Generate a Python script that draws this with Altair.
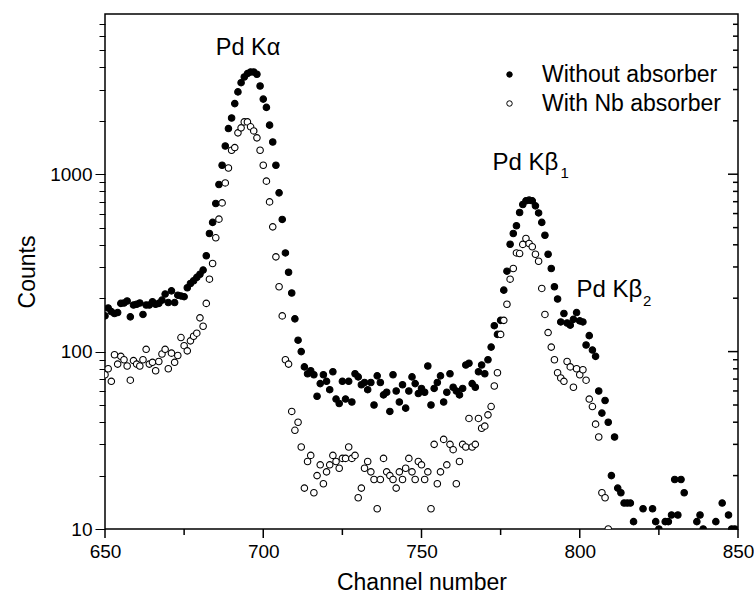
import altair as alt
import pandas as pd

channels = list(range(650, 851))
series_names = ["Without absorber", "With Nb absorber"]

N = None
without_counts = [
    159, 176, 168, 164, 166, 187, 188, 193, 157, 183,      # 650
    185, 188, 162, 183, 183, 191, 185, 187, 195, 211,      # 660
    189, 220, 189, 208, 206, 204, 229, 242, 251, 262,      # 670
    273, 288, 347, 463, 535, 684, 875, 1124, 1443, 1808,   # 680
    2075, 2500, 2910, 3280, 3530, 3690, 3770, 3770, 3660, 3140,  # 690
    2650, 2380, 1890, 1520, 1124, 785, 556, 360, 280, 214,  # 700
    153, 116, 100, 82, 75, 78, 74, 56, 66, 74,             # 710
    68, 61, 77, 54, 51, 68, 54, 68, 52, 75,                # 720
    72, 65, 67, 61, 67, 50, 73, 67, 57, 59,                # 730
    46, 74, 60, 52, 65, 48, 60, 72, 66, 58,                # 740
    62, 59, 83, 50, 62, 67, 73, 52, 59, 75,                # 750
    63, 60, 57, 62, 84, 86, 66, 63, 77, 84,                # 760
    75, 90, 106, 140, 125, 150, 222, 284, 403, 463,        # 770
    512, 608, 675, 708, 714, 708, 663, 605, 535, 453,      # 780
    354, 294, 232, 198, 147, 164, 145, 141, 152, 166,      # 790
    149, 147, 109, 123, 102, 94, 60, 45, 53, 40,           # 800
    20, 33, 17, 16, 14, 14, 14, 11, N, N,                  # 810
    13, N, N, 13, 11, 10, N, 11, 11, 12,                   # 820
    19, 12, 19, 16, N, N, N, 11, 12, 10,                   # 830
    N, N, N, 11, N, 14, N, 12, 10, 10,                     # 840
    N,                                                     # 850
]

with_counts = [
    74, 80, 68, 96, 85, 94, 90, 83, 69, 89,                # 650
    85, 83, 90, 103, 85, 87, 78, 88, 97, 103,              # 660
    80, 98, 87, 95, 120, 108, 101, 115, 122, 127,          # 670
    155, 139, 187, 256, 314, 438, 558, 689, 893, 1084,     # 680
    1365, 1413, 1710, 1825, 1972, 1972, 1850, 1754, 1603, 1365,  # 690
    1124, 914, 698, 505, 342, 232, 159, 90, 85, 46,        # 700
    36, 40, 29, 17, 24, 26, 16, 20, 23, 18,                # 710
    21, 23, 26, 24, 22, 25, 25, 29, 25, 26,                # 720
    15, 17, 22, 24, 21, 19, 13, 19, 25, 21,                # 730
    20, 19, 17, 21, 19, 22, 25, 21, 19, 24,                # 740
    23, 19, 21, 13, 30, 18, 21, 32, 23, 30,                # 750
    28, 18, 24, 30, 29, 42, 29, 30, 42, 37,                # 760
    38, 44, 49, 64, 76, 125, 150, 185, 256, 294,           # 770
    360, 357, 402, 434, 407, 390, 354, 323, 227, 162,      # 780
    128, 106, 90, 76, 71, 68, 88, 82, 63, 80,              # 790
    74, 79, 69, 54, 49, 39, 33, 16, 15, 10,                # 800
] + [N] * 41

x_major = [650, 700, 750, 800, 850]
x_minor = [675, 725, 775, 825]
x_ticks = sorted(x_major + x_minor)
y_major = [10, 100, 1000]
y_minor = [20, 30, 40, 50, 60, 70, 80, 90,
           200, 300, 400, 500, 600, 700, 800, 900,
           2000, 3000, 4000, 5000, 6000, 7000]
y_ticks = sorted(y_major + y_minor)

ann_text = ["Pd K\u03b1", "Pd K\u03b2", "1", "Pd K\u03b2", "2"]
ann_x = [685.0, 772.4, 793.9, 799.0, 820.0]
ann_y = [5130, 1153, 1010, 222, 193]
ann_size = [23.5, 24, 15, 24, 15]

W, H = 633, 515

rows = []
for name, counts in zip(series_names, [without_counts, with_counts]):
    for c, v in zip(channels, counts):
        if v is not None:
            rows.append({"channel": c, "counts": v, "series": name})
df = pd.DataFrame(rows)
ann = pd.DataFrame({"text": ann_text, "x": ann_x, "y": ann_y, "size": ann_size})
xmaj_df = pd.DataFrame({"v": x_major})
xmin_df = pd.DataFrame({"v": x_minor})
ymaj_df = pd.DataFrame({"v": y_major})
ymin_df = pd.DataFrame({"v": y_minor})

FONT = "Liberation Sans"
xs = alt.Scale(domain=[650, 850], nice=False, zero=False)
ys = alt.Scale(type="log", domain=[10, 8000], nice=False)

X_MAJOR = "datum.value % 50 == 0"
Y_MAJOR = "datum.value == 10 || datum.value == 100 || datum.value == 1000"

common = dict(grid=False, domain=False, tickColor="black", tickWidth=1,
              labelColor="black", labelFont=FONT, labelFontSize=19,
              titleFont=FONT, titleFontSize=23, titleColor="black",
              titleFontWeight="normal", labelFlush=False, labelOverlap=False)

x_axis = alt.Axis(values=x_ticks, orient="bottom", title="Channel number",
                  ticks=False, labelExpr=f"{X_MAJOR} ? datum.label : ''",
                  labelPadding=13, titlePadding=10, format="d", **common)
y_axis = alt.Axis(values=y_ticks, orient="left", title="Counts", ticks=True,
                  tickSize=alt.condition(Y_MAJOR, alt.value(10), alt.value(6)),
                  labelExpr=f"{Y_MAJOR} ? datum.label : ''",
                  labelPadding=3, titlePadding=10, format="d", **common)

base = alt.Chart(df)

points = base.mark_point(shape="circle", size=42, filled=True, strokeWidth=1.1,
                         opacity=1, clip=True).encode(
    x=alt.X("channel:Q", scale=xs, axis=x_axis),
    y=alt.Y("counts:Q", scale=ys, axis=y_axis),
    fill=alt.Fill("series:N", scale=alt.Scale(domain=series_names, range=["black", "white"]),
                  legend=alt.Legend(title=None, orient="none", legendX=393, legendY=49,
                                    labelFont=FONT, labelFontSize=23, labelColor="black",
                                    labelLimit=0,
                                    symbolType="circle", symbolSize=30,
                                    symbolStrokeColor="black", symbolStrokeWidth=1,
                                    labelOffset=21, rowPadding=5, padding=0)),
    stroke=alt.value("black"),
)

x_major_ticks = alt.Chart(xmaj_df).mark_rule(color="black", strokeWidth=1.5).encode(
    x=alt.X("v:Q", scale=xs, axis=x_axis),
    y=alt.value(H), y2=alt.value(H + 9),
)
x_minor_ticks = alt.Chart(xmin_df).mark_rule(color="black", strokeWidth=1.5).encode(
    x=alt.X("v:Q", scale=xs, axis=x_axis),
    y=alt.value(H), y2=alt.value(H + 6),
)
y_major_right = alt.Chart(ymaj_df).mark_rule(color="black", strokeWidth=1.5).encode(
    y=alt.Y("v:Q", scale=ys, axis=None),
    x=alt.value(W - 10), x2=alt.value(W),
)
y_minor_right = alt.Chart(ymin_df).mark_rule(color="black", strokeWidth=1.5).encode(
    y=alt.Y("v:Q", scale=ys, axis=None),
    x=alt.value(W - 5), x2=alt.value(W),
)

texts = alt.Chart(ann).mark_text(font=FONT, color="black", align="left",
                                 baseline="middle").encode(
    x=alt.X("x:Q", scale=xs, axis=x_axis),
    y=alt.Y("y:Q", scale=ys, axis=None),
    text="text:N",
    size=alt.Size("size:Q", scale=None, legend=None),
)

chart = alt.layer(points, x_major_ticks, x_minor_ticks, y_major_right, y_minor_right,
                  texts).resolve_axis(y="independent").properties(
    width=W, height=H,
    autosize=alt.AutoSizeParams(type="none"),
    padding={"left": 105, "top": 14, "right": 16, "bottom": 70},
    background="white",
).configure_view(stroke="black", strokeWidth=1.5)

chart.save("out.html", embed_options={"renderer": "svg", "actions": False})
